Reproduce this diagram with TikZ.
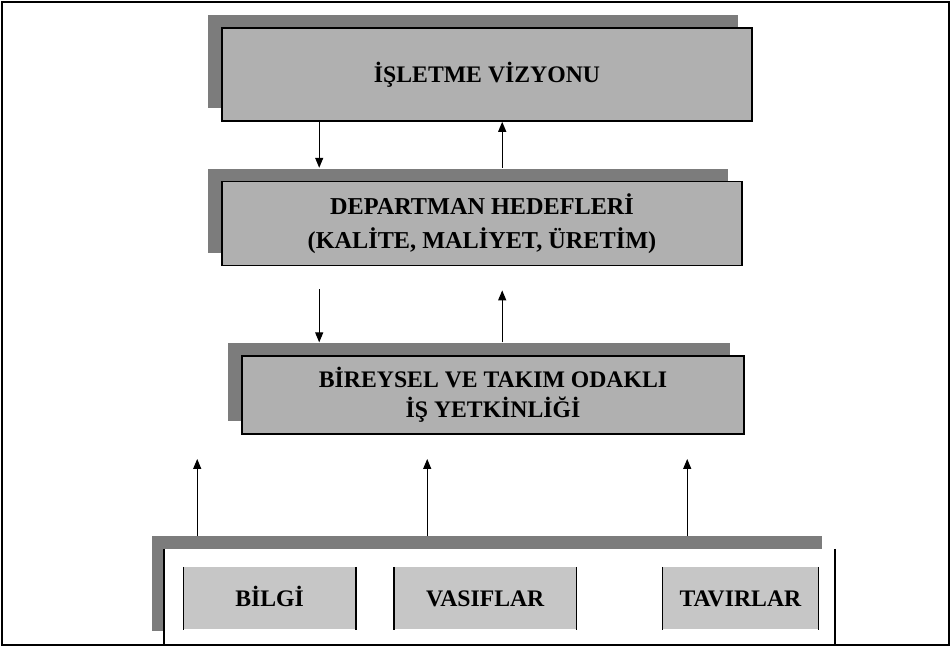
\documentclass[tikz,border=0pt]{standalone}
\usepackage{fontspec}
\setmainfont{Liberation Serif}
\usetikzlibrary{positioning,shadows,arrows.meta}

\definecolor{boxgray}{HTML}{B0B0B0}
\definecolor{shadegray}{HTML}{7C7C7C}
\definecolor{cellgray}{HTML}{C6C6C6}

\tikzset{
  levelbox/.style={draw=black, line width=0.9pt, fill=boxgray, align=center,
    font=\bfseries\fontsize{13.5}{17}\selectfont,
    general shadow={shadow xshift=-0.28cm, shadow yshift=0.26cm, fill=shadegray}},
  basebox/.style={fill=white, minimum width=13.4cm, minimum height=1.9cm,
    general shadow={shadow xshift=-0.26cm, shadow yshift=0.26cm, fill=shadegray}},
  cellbox/.style={fill=cellgray, minimum height=1.24cm, inner sep=0pt,
    text height=9pt, text depth=0pt,
    font=\bfseries\fontsize{13.5}{17}\selectfont},
  arr/.style={-{Triangle[length=0.2cm, width=0.16cm]}, line width=0.7pt}
}

\begin{document}
\begin{tikzpicture}
\useasboundingbox (0,0) rectangle (19.04,-12.96);
\draw[line width=0.6pt] (0.04,-0.04) rectangle (18.98,-12.9);

\node[levelbox, minimum width=10.6cm, minimum height=1.86cm] (vision) at (9.74,-1.49) {İŞLETME VİZYONU};
\node[levelbox, minimum width=10.4cm, minimum height=1.68cm, font=\bfseries\fontsize{13.8}{19}\selectfont] (dept) [below=1.18cm of vision.south west, anchor=north west] {DEPARTMAN HEDEFLERİ\\(KALİTE, MALİYET, ÜRETİM)};
\node[levelbox, minimum width=10.04cm, minimum height=1.56cm] (indiv) [below=1.78cm of dept.south west, anchor=north west, xshift=0.4cm] {BİREYSEL VE TAKIM ODAKLI\\İŞ YETKİNLİĞİ};

\node[basebox] (base) [below=2.28cm of indiv.south west, anchor=north west, xshift=-1.54cm] {};
\draw[line width=0.9pt] (base.north west) -- (base.south west) (base.north east) -- (base.south east);

\node[cellbox, minimum width=3.44cm] (bilgi) [below right=0.36cm and 0.38cm of base.north west] {BİLGİ};
\node[cellbox, minimum width=3.64cm] (vasif) [right=0.76cm of bilgi] {VASIFLAR};
\node[cellbox, minimum width=3.1cm] (tavir) [right=1.72cm of vasif] {TAVIRLAR};
\draw[line width=0.8pt] (bilgi.north west) -- (bilgi.south west) (bilgi.north east) -- (bilgi.south east);
\draw[line width=0.8pt] (vasif.north west) -- (vasif.south west) (vasif.north east) -- (vasif.south east);
\draw[line width=0.8pt] (tavir.north west) -- (tavir.south west) (tavir.north east) -- (tavir.south east);

% arrows between the levels
\coordinate (d1) at ([xshift=1.96cm]vision.south west);
\coordinate (u1) at ([xshift=5.62cm]vision.south west);
\draw[arr, shorten >=0.26cm] (d1) -- (d1 |- dept.north);
\draw[arr, shorten <=0.26cm] (u1 |- dept.north) -- (u1);
\draw[arr, shorten <=0.46cm, shorten >=0.26cm] (d1 |- dept.south) -- (d1 |- indiv.north);
\draw[arr, shorten <=0.26cm, shorten >=0.48cm] (u1 |- indiv.north) -- (u1 |- dept.south);

% arrows from the base
\coordinate (a1) at ([xshift=0.66cm]base.north west);
\coordinate (a2) at ([xshift=5.26cm]base.north west);
\coordinate (a3) at ([xshift=10.46cm]base.north west);
\draw[arr, shorten <=0.26cm, shorten >=0.48cm] (a1) -- (a1 |- indiv.south);
\draw[arr, shorten <=0.26cm, shorten >=0.48cm] (a2) -- (a2 |- indiv.south);
\draw[arr, shorten <=0.26cm, shorten >=0.48cm] (a3) -- (a3 |- indiv.south);
\end{tikzpicture}
\end{document}
